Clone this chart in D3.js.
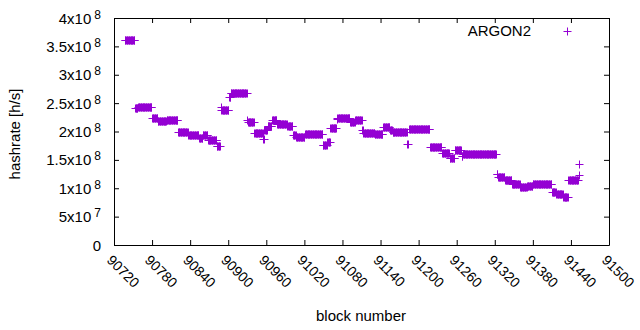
<!DOCTYPE html>
<html>
<head>
<meta charset="utf-8">
<script src="https://cdn.jsdelivr.net/npm/d3@7"></script>
<style>
body { margin: 0; background: #fff; }
svg { display: block; font-family: "Liberation Sans", Arial, sans-serif; }
.axis path, .axis line { stroke: #000; }
</style>
</head>
<body>
<svg id="chart" width="640" height="330"></svg>
<script>
// Runs of blocks where the hashrate estimate stays (about) constant,
// read off the plot. Rate in units of 10^8 h/s
var runStart = [90737, 90753, 90758, 90780, 90789, 90803, 90821, 90837, 90854, 90860,
  90868, 90882, 90888, 90889, 90901, 90904, 90930, 90931, 90941, 90955,
  90957, 90962, 90969, 90977, 90993, 91002, 91007, 91021, 91049, 91056,
  91061, 91071, 91072, 91092, 91100, 91111, 91113, 91131, 91144, 91155,
  91159, 91182, 91185, 91218, 91237, 91249, 91257, 91268, 91270, 91323,
  91325, 91336, 91347, 91360, 91371, 91380, 91410, 91417, 91428, 91436,
  91452, 91453]
var runEnd = [90752, 90757, 90779, 90788, 90802, 90820, 90836, 90853, 90859, 90867,
  90881, 90887, 90888, 90900, 90903, 90929, 90930, 90940, 90954, 90956,
  90961, 90968, 90976, 90992, 91001, 91006, 91020, 91048, 91055, 91060,
  91070, 91071, 91091, 91099, 91110, 91112, 91130, 91143, 91154, 91158,
  91181, 91183, 91217, 91236, 91248, 91256, 91267, 91269, 91322, 91324,
  91335, 91346, 91359, 91370, 91379, 91409, 91416, 91427, 91435, 91451,
  91452, 91453]
var runRate = [3.61, 2.41, 2.43, 2.24, 2.18, 2.20, 1.99, 1.93, 1.88, 1.93,
  1.85, 1.74, 2.43, 2.38, 2.61, 2.67, 2.20, 2.16, 1.97, 1.87,
  2.02, 2.09, 2.21, 2.13, 2.09, 1.94, 1.91, 1.96, 1.76, 1.81,
  2.06, 2.22, 2.24, 2.17, 2.21, 2.03, 1.98, 1.96, 2.08, 2.03,
  1.99, 1.78, 2.04, 1.73, 1.62, 1.54, 1.67, 1.57, 1.61, 1.25,
  1.20, 1.15, 1.08, 1.02, 1.04, 1.07, 0.93, 0.90, 0.85, 1.14,
  1.23, 1.43]

var xTicks = [90720, 90780, 90840, 90900, 90960, 91020, 91080, 91140,
  91200, 91260, 91320, 91380, 91440, 91500]
// y tick labels as [mantissa, exponent]
var yTicks = [0, 5e7, 1e8, 1.5e8, 2e8, 2.5e8, 3e8, 3.5e8, 4e8]
var yLabels = [['0', ''], ['5x10', '7'], ['1x10', '8'], ['1.5x10', '8'], ['2x10', '8'],
  ['2.5x10', '8'], ['3x10', '8'], ['3.5x10', '8'], ['4x10', '8']]

var seriesName = 'ARGON2'
var colour = '#9400d3'

// One point per block
var data = []
runStart.forEach(function(s, i) {
  for (var b = s; b <= runEnd[i]; b++) data.push({x: b, y: runRate[i] * 1e8})
})

var svg = d3.select('#chart')
var m_left = 114, m_right = 609, m_top = 18, m_bottom = 245

var x = d3.scaleLinear().domain([90720, 91500]).range([m_left, m_right])
var y = d3.scaleLinear().domain([0, 4e8]).range([m_bottom, m_top])

// Box with inward ticks on all sides
var axes = [
  [d3.axisBottom(x).tickValues(xTicks), 'translate(0,' + m_bottom + ')'],
  [d3.axisTop(x).tickValues(xTicks), 'translate(0,' + m_top + ')'],
  [d3.axisLeft(y).tickValues(yTicks), 'translate(' + m_left + ',0)'],
  [d3.axisRight(y).tickValues(yTicks), 'translate(' + m_right + ',0)']
]
axes.forEach(function(a) {
  svg.append('g')
    .attr('class', 'axis')
    .attr('transform', a[1])
    .call(a[0].tickSizeInner(-5).tickSizeOuter(0).tickFormat(''))
})

// y tick labels with superscripts
var yl = svg.append('g').attr('font-size', 15).attr('text-anchor', 'end')
yTicks.forEach(function(v, i) {
  var t = yl.append('text')
    .attr('x', 101)
    .attr('y', y(v) + 5.5)
  t.append('tspan').text(yLabels[i][0])
  if (yLabels[i][1]) {
    t.append('tspan')
      .attr('dx', 3)
      .attr('dy', -5)
      .attr('font-size', 12)
      .text(yLabels[i][1])
  }
})

// Rotated x tick labels
svg.append('g').attr('font-size', 14)
  .selectAll('text')
  .data(xTicks)
  .join('text')
    .attr('transform', d => 'translate(' + (x(d) - 8) + ',261) rotate(45)')
    .text(d => d)

// Axis titles
svg.append('text')
  .attr('font-size', 15)
  .attr('text-anchor', 'middle')
  .attr('transform', 'translate(20,134) rotate(-90)')
  .text('hashrate [h/s]')

svg.append('text')
  .attr('font-size', 15)
  .attr('text-anchor', 'middle')
  .attr('x', 361)
  .attr('y', 321)
  .text('block number')

// Points (gnuplot '+')
var plus = 'M-4,0H4M0,-4V4'
svg.append('g')
  .selectAll('path')
  .data(data)
  .join('path')
    .attr('transform', d => 'translate(' + (Math.round(x(d.x)) + 0.5) + ',' + (Math.round(y(d.y)) + 0.5) + ')')
    .attr('d', plus)
    .attr('fill', 'none')
    .attr('stroke', colour)
    .attr('stroke-width', 1)

// Legend
svg.append('text')
  .attr('font-size', 15)
  .attr('text-anchor', 'end')
  .attr('x', 531)
  .attr('y', 36)
  .text(seriesName)

svg.append('path')
  .attr('transform', 'translate(567.5,31.5)')
  .attr('d', plus)
  .attr('fill', 'none')
  .attr('stroke', colour)
</script>
</body>
</html>
